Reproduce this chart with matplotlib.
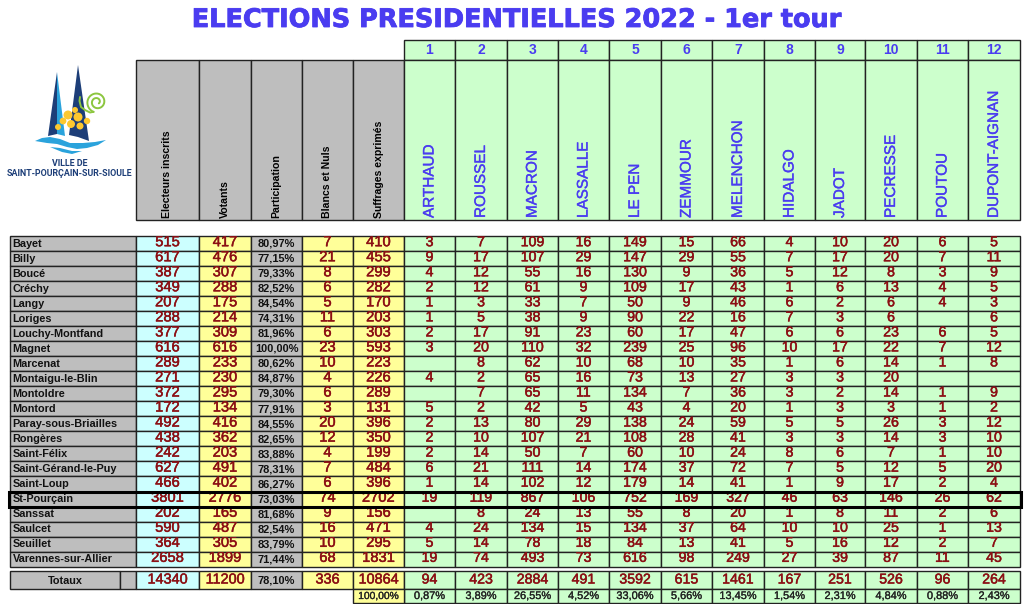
import matplotlib
matplotlib.use("Agg")
from matplotlib import pyplot as plt
from matplotlib.patches import Rectangle, Polygon, Circle
import matplotlib.patheffects as pe
import numpy as np

communes = ["Bayet", "Billy", "Boucé", "Créchy", "Langy", "Loriges", "Louchy-Montfand", "Magnet",
            "Marcenat", "Montaigu-le-Blin", "Montoldre", "Montord", "Paray-sous-Briailles", "Rongères",
            "Saint-Félix", "Saint-Gérand-le-Puy", "Saint-Loup", "St-Pourçain", "Sanssat", "Saulcet",
            "Seuillet", "Varennes-sur-Allier"]
inscrits = [515, 617, 387, 349, 207, 288, 377, 616, 289, 271, 372, 172, 492, 438, 242, 627, 466, 3801, 202, 590, 364, 2658]
votants = [417, 476, 307, 288, 175, 214, 309, 616, 233, 230, 295, 134, 416, 362, 203, 491, 402, 2776, 165, 487, 305, 1899]
participation = ["80,97%", "77,15%", "79,33%", "82,52%", "84,54%", "74,31%", "81,96%", "100,00%", "80,62%", "84,87%",
                 "79,30%", "77,91%", "84,55%", "82,65%", "83,88%", "78,31%", "86,27%", "73,03%", "81,68%", "82,54%",
                 "83,79%", "71,44%"]
blancs = [7, 21, 8, 6, 5, 11, 6, 23, 10, 4, 6, 3, 20, 12, 4, 7, 6, 74, 9, 16, 10, 68]
exprimes = [410, 455, 299, 282, 170, 203, 303, 593, 223, 226, 289, 131, 396, 350, 199, 484, 396, 2702, 156, 471, 295, 1831]

candidats = ["ARTHAUD", "ROUSSEL", "MACRON", "LASSALLE", "LE PEN", "ZEMMOUR", "MELENCHON", "HIDALGO",
             "JADOT", "PECRESSE", "POUTOU", "DUPONT-AIGNAN"]
voix = [
    [3, 7, 109, 16, 149, 15, 66, 4, 10, 20, 6, 5],
    [9, 17, 107, 29, 147, 29, 55, 7, 17, 20, 7, 11],
    [4, 12, 55, 16, 130, 9, 36, 5, 12, 8, 3, 9],
    [2, 12, 61, 9, 109, 17, 43, 1, 6, 13, 4, 5],
    [1, 3, 33, 7, 50, 9, 46, 6, 2, 6, 4, 3],
    [1, 5, 38, 9, 90, 22, 16, 7, 3, 6, None, 6],
    [2, 17, 91, 23, 60, 17, 47, 6, 6, 23, 6, 5],
    [3, 20, 110, 32, 239, 25, 96, 10, 17, 22, 7, 12],
    [None, 8, 62, 10, 68, 10, 35, 1, 6, 14, 1, 8],
    [4, 2, 65, 16, 73, 13, 27, 3, 3, 20, None, None],
    [None, 7, 65, 11, 134, 7, 36, 3, 2, 14, 1, 9],
    [5, 2, 42, 5, 43, 4, 20, 1, 3, 3, 1, 2],
    [2, 13, 80, 29, 138, 24, 59, 5, 5, 26, 3, 12],
    [2, 10, 107, 21, 108, 28, 41, 3, 3, 14, 3, 10],
    [2, 14, 50, 7, 60, 10, 24, 8, 6, 7, 1, 10],
    [6, 21, 111, 14, 174, 37, 72, 7, 5, 12, 5, 20],
    [1, 14, 102, 12, 179, 14, 41, 1, 9, 17, 2, 4],
    [19, 119, 867, 106, 752, 169, 327, 46, 63, 146, 26, 62],
    [None, 8, 24, 13, 55, 8, 20, 1, 8, 11, 2, 6],
    [4, 24, 134, 15, 134, 37, 64, 10, 10, 25, 1, 13],
    [5, 14, 78, 18, 84, 13, 41, 5, 16, 12, 2, 7],
    [19, 74, 493, 73, 616, 98, 249, 27, 39, 87, 11, 45],
]
totaux_debut = [14340, 11200, "78,10%", 336, 10864]
totaux_cand = [94, 423, 2884, 491, 3592, 615, 1461, 167, 251, 526, 96, 264]
pct_cand = ["0,87%", "3,89%", "26,55%", "4,52%", "33,06%", "5,66%", "13,45%", "1,54%", "2,31%", "4,84%", "0,88%", "2,43%"]
entetes = ["Electeurs inscrits", "Votants", "Participation", "Blancs et Nuls", "Suffrages exprimés"]

# layout, in image pixels
col_x = [136, 199, 251, 302, 353, 404, 455, 507, 558, 609, 661, 712, 764, 815, 865, 917, 968, 1020]
row_top = 236
row_h = 15.03
n = len(communes)
row_y = [row_top + i * row_h for i in range(n + 1)]

GRIS = "#bebebe"
BLEU = "#ccffff"
JAUNE = "#ffff99"
VERT = "#ccffcc"
ROUGE = "#8b0f14"
ENCRE = "#4a3cf0"
LIGNE = "#222222"

plt.rcParams["font.family"] = ["Liberation Sans", "DejaVu Sans"]

fig = plt.figure(figsize=(10.24, 6.04), dpi=100)
ax = fig.add_axes([0, 0, 1, 1])
ax.set_xlim(0, 1024)
ax.set_ylim(604, 0)
ax.axis("off")


def cell(x0, x1, y0, y1, color, lw=1.0, ec=LIGNE):
    r = Rectangle((x0, y0), x1 - x0, y1 - y0, fc=color, ec=ec, lw=lw)
    ax.add_patch(r)
    return r


def col_color(j):
    if j == 0:
        return BLEU
    if j == 2:
        return GRIS
    if j in (1, 3, 4):
        return JAUNE
    return VERT


def nombre(x, y, s, size, clip=None):
    t = ax.text(x, y, s, color=ROUGE, fontsize=size, ha="center", va="center",
                path_effects=[pe.withStroke(linewidth=0.35, foreground=ROUGE)])
    if clip is not None:
        t.set_clip_path(clip)
        t.set_clip_on(True)
    return t


# title
ax.text(516, 20, "ELECTIONS PRESIDENTIELLES 2022 - 1er tour", color=ENCRE, fontsize=18.4, weight="bold",
        family=["DejaVu Sans"], ha="center", va="center",
        path_effects=[pe.withStroke(linewidth=0.6, foreground=ENCRE)])

# header
for j in range(17):
    x0, x1 = col_x[j], col_x[j + 1]
    xm = (x0 + x1) / 2
    if j >= 5:
        cell(x0, x1, 40, 60, VERT)
        ax.text(xm, 50, str(j - 4), color=ENCRE, fontsize=10, weight="bold", ha="center", va="center")
        cell(x0, x1, 60, 220, VERT)
        ax.text(xm, 218, candidats[j - 5], color=ENCRE, fontsize=11, rotation=90, ha="center", va="bottom",
                path_effects=[pe.withStroke(linewidth=0.25, foreground=ENCRE)])
    else:
        cell(x0, x1, 60, 220, GRIS)
        ax.text(xm, 218, entetes[j], color="black", fontsize=7.6, weight="bold", rotation=90,
                ha="center", va="bottom")

# communes
for i in range(n):
    y0, y1 = row_y[i], row_y[i + 1]
    ym = y0 + 6.2
    cell(10, col_x[0], y0, y1, GRIS)
    ax.text(12.5, ym + 1.6, communes[i], color="#111111", fontsize=7.8, weight="bold", ha="left", va="center")
    debut = [inscrits[i], votants[i], participation[i], blancs[i], exprimes[i]]
    for j in range(17):
        x0, x1 = col_x[j], col_x[j + 1]
        xm = (x0 + x1) / 2
        r = cell(x0, x1, y0, y1, col_color(j))
        if j < 5:
            if j == 2:
                ax.text(xm, ym + 1.5, debut[j], color="#111111", fontsize=7.9, weight="bold", ha="center", va="center")
            else:
                nombre(xm, ym, str(debut[j]), 10.6, r)
        else:
            v = voix[i][j - 5]
            if v is not None:
                nombre(xm, ym, str(v), 10.2, r)

# St-Pourcain box
i_sp = communes.index("St-Pourçain")
ax.add_patch(Rectangle((9, row_y[i_sp]), 1021 - 9, row_h, fc="none", ec="black", lw=2.2, zorder=5))

# totals
t0, t1, t2 = 571, 589, 603
cell(10, 120, t0, t1, GRIS)
cell(120, col_x[0], t0, t1, GRIS)
ax.text(65, (t0 + t1) / 2 + 0.5, "Totaux", color="#111111", fontsize=7.8, weight="bold", ha="center", va="center")
for j in range(17):
    x0, x1 = col_x[j], col_x[j + 1]
    xm = (x0 + x1) / 2
    cell(x0, x1, t0, t1, col_color(j))
    if j < 5:
        if j == 2:
            ax.text(xm, (t0 + t1) / 2 + 0.5, totaux_debut[j], color="#111111", fontsize=7.9, weight="bold", ha="center", va="center")
        else:
            nombre(xm, (t0 + t1) / 2 - 0.5, str(totaux_debut[j]), 10.4)
    else:
        nombre(xm, (t0 + t1) / 2 - 0.5, str(totaux_cand[j - 5]), 10.2)
        cell(x0, x1, t1, t2, VERT)
        ax.text(xm, (t1 + t2) / 2, pct_cand[j - 5], color="#222222", fontsize=7.9, ha="center", va="center",
                path_effects=[pe.withStroke(linewidth=0.2, foreground="#222222")])
cell(col_x[4], col_x[5], t1, t2, JAUNE)
ax.text((col_x[4] + col_x[5]) / 2, (t1 + t2) / 2, "100,00%", color="#222222", fontsize=7.4, ha="center", va="center",
        path_effects=[pe.withStroke(linewidth=0.2, foreground="#222222")])

# logo
NAVY = "#1d3e78"
CYAN = "#2aa3dc"
ax.add_patch(Polygon([[48, 136], [57, 72], [57, 134]], fc=NAVY, ec="none"))
ax.add_patch(Polygon([[57, 72], [65, 136], [57, 134]], fc=CYAN, ec="none"))
ax.add_patch(Polygon([[69, 135], [78, 65], [89, 141], [78, 137]], fc=NAVY, ec="none"))
wave = [[35, 141], [42, 138], [50, 137], [60, 139], [70, 143], [83, 143], [95, 142], [106, 140], [98, 145],
        [87, 148], [77, 149], [67, 147], [57, 144], [47, 143]]
ax.add_patch(Polygon(wave, fc=CYAN, ec="none"))
ax.add_patch(Polygon([[50, 147], [60, 148], [72, 151], [82, 151], [72, 154], [62, 152]], fc=CYAN, ec="none"))
# tendril
a = np.linspace(0, 3.6 * np.pi, 60)
rs = 10.5 * (1 - a / (4.6 * np.pi))
ax.plot(97 + rs * np.cos(a + 1.9), 102 + rs * np.sin(a + 1.9), color="#8cc63f", lw=1.4, solid_capstyle="round")
ax.plot([80, 79.5, 81, 85, 90, 93.5], [97, 101, 107, 110, 112.5, 111.8], color="#8cc63f", lw=1.4, solid_capstyle="round")
for cx, cy, r in [(68, 115, 4.5), (78, 117, 4.5), (75, 110, 3), (63, 121, 3.4), (71, 124, 4), (80, 126, 3.5), (58, 127, 3), (87, 121, 3.2)]:
    ax.add_patch(Circle((cx, cy), r, fc="#fdc82f", ec="none", zorder=3))
ax.text(69.5, 163, "VILLE DE", color=NAVY, fontsize=6.4, weight="bold", ha="center", va="center", family=["Roboto", "DejaVu Sans"])
ax.text(69.5, 174, "SAINT-POURÇAIN-SUR-SIOULE", color=NAVY, fontsize=6.4, weight="bold", ha="center", va="center", family=["Roboto", "DejaVu Sans"])

fig.savefig("out.png", dpi=100)
